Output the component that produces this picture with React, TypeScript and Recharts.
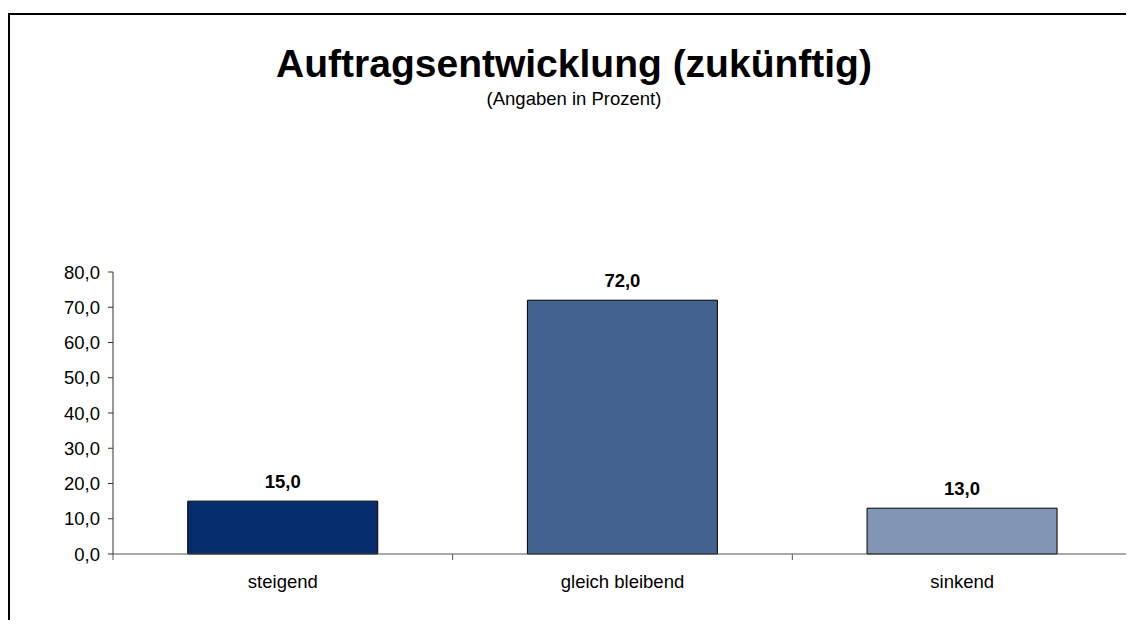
import React from 'react';
import { BarChart, Bar, XAxis, YAxis, Cell, LabelList } from 'recharts';

const categories = ['steigend', 'gleich bleibend', 'sinkend'];
const values = [15, 72, 13];
const barColors = ['#062E6F', '#43628F', '#8295B5'];
const yTicks = [0, 10, 20, 30, 40, 50, 60, 70, 80];

const data = categories.map((name, i) => ({ name, value: values[i] }));

const font = '"Liberation Sans", Arial, sans-serif';
const fmt = (v: number) => v.toFixed(1).replace('.', ',');

const X_TICK_MARGIN = 21;
const X_TICK_LEN = 6;

// category label plus the small boundary ticks Excel draws between categories
function CategoryTick(props: any) {
  const { x, y, payload, index, visibleTicksCount } = props;
  const half = payload.offset || 0;
  const axisY = y - X_TICK_MARGIN;
  const last = index === (visibleTicksCount ?? categories.length) - 1;
  return (
    <g>
      <line x1={x - half} x2={x - half} y1={axisY} y2={axisY + X_TICK_LEN} stroke="#555" />
      {last && <line x1={x + half} x2={x + half} y1={axisY} y2={axisY + X_TICK_LEN} stroke="#555" />}
      <text x={x} y={y} dy="0.71em" textAnchor="middle" fill="#000" fontSize={18.5} fontFamily={font}>
        {payload.value}
      </text>
    </g>
  );
}

export default function App() {
  return (
    <div style={{ paddingTop: 5, fontFamily: font }}>
      <div
        style={{
          position: 'relative',
          width: 1124,
          height: 605,
          borderTop: '2px solid #000',
          borderLeft: '2px solid #000',
        }}
      >
        <div
          style={{
            position: 'absolute',
            left: 0,
            width: 1128,
            top: 29,
            textAlign: 'center',
            fontSize: 39,
            lineHeight: '39px',
            fontWeight: 'bold',
            color: '#000',
          }}
        >
          Auftragsentwicklung (zukünftig)
        </div>
        <div
          style={{
            position: 'absolute',
            left: 0,
            width: 1128,
            top: 75,
            textAlign: 'center',
            fontSize: 18.5,
            lineHeight: '18.5px',
            color: '#000',
          }}
        >
          (Angaben in Prozent)
        </div>
        <BarChart
          width={1124}
          height={605}
          data={data}
          margin={{ top: 257, right: 2, left: 0, bottom: 36 }}
          barCategoryGap="22%"
        >
          <XAxis
            dataKey="name"
            height={30}
            axisLine={{ stroke: '#555' }}
            tickLine={false}
            tickSize={0}
            tickMargin={X_TICK_MARGIN}
            tick={<CategoryTick />}
          />
          <YAxis
            width={103}
            domain={[0, 80]}
            ticks={yTicks}
            interval={0}
            tickFormatter={fmt}
            axisLine={{ stroke: '#333' }}
            tickLine={{ stroke: '#333' }}
            tickSize={5}
            tickMargin={8}
            tick={{ fill: '#000', fontSize: 18.5, fontFamily: font }}
          />
          <Bar dataKey="value" stroke="#000" strokeWidth={1} isAnimationActive={false}>
            {data.map((d, i) => (
              <Cell key={d.name} fill={barColors[i]} />
            ))}
            <LabelList
              dataKey="value"
              position="top"
              offset={13}
              formatter={(v: any) => fmt(Number(v))}
              style={{ fill: '#000', fontSize: 18.5, fontWeight: 'bold', fontFamily: font }}
            />
          </Bar>
        </BarChart>
      </div>
    </div>
  );
}
